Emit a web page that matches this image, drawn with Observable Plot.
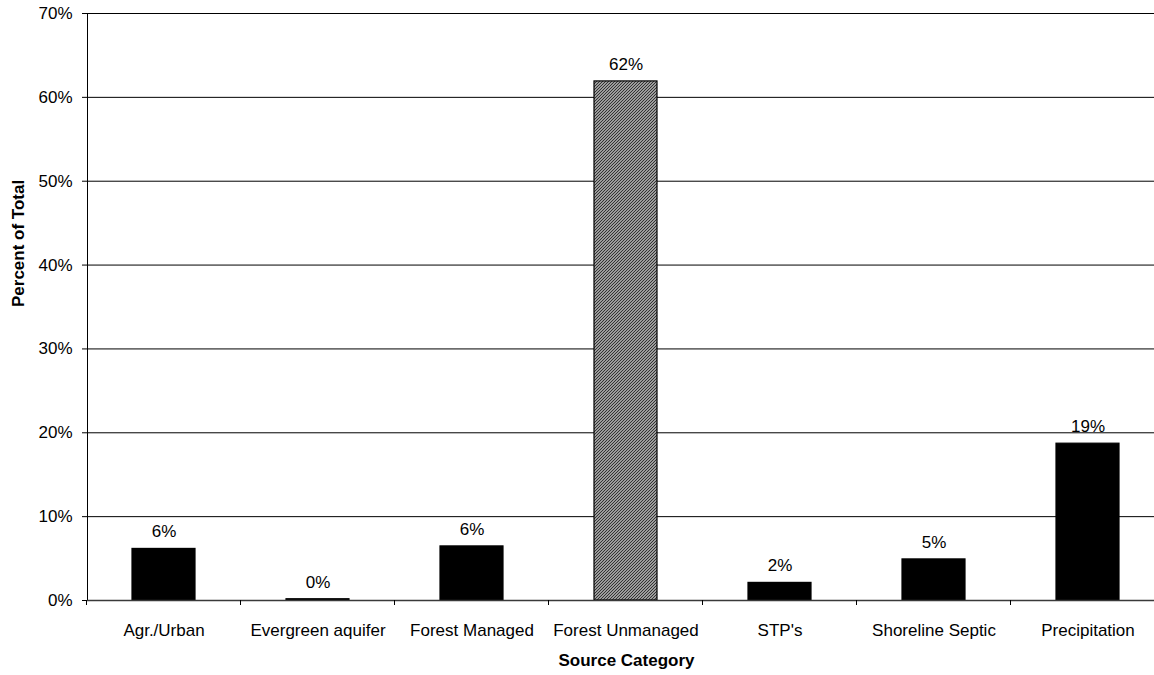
<!DOCTYPE html>
<html>
<head>
<meta charset="utf-8">
<script src="https://cdn.jsdelivr.net/npm/d3@7"></script>
<script src="https://cdn.jsdelivr.net/npm/@observablehq/plot@0.6"></script>
<style>
  html, body { margin: 0; padding: 0; background: #fff; overflow: hidden; }
  #chart { width: 1154px; height: 675px; overflow: hidden; }
  #chart svg { max-width: none !important; }
  #chart svg text { font-size: 17px; font-family: 'Liberation Sans', Arial, sans-serif; }
</style>
</head>
<body>
<div id="chart"></div>
<script>
const categories = ["Agr./Urban", "Evergreen aquifer", "Forest Managed", "Forest Unmanaged", "STP's", "Shoreline Septic", "Precipitation"];
const values = [6.15, 0.15, 6.45, 61.9, 2.1, 4.9, 18.7];
const hatchedCategory = "Forest Unmanaged";
const yTicks = [0, 10, 20, 30, 40, 50, 60, 70];
const yTitle = "Percent of Total";
const xTitle = "Source Category";

const data = categories.map((c, i) => ({category: c, value: values[i]}));

function boundaryTicks(index, scales, channels, dimensions) {
  const x = scales.x, y = scales.y;
  const step = x.step(), bw = x.bandwidth();
  const gap = (step - bw) / 2;
  const edges = categories.map(c => x(c) - gap);
  edges.push(x(categories[categories.length - 1]) + bw + gap);
  const y0 = y(0);
  const g = d3.create("svg:g").attr("stroke", "#000").attr("stroke-width", 1);
  g.selectAll("line").data(edges).join("line")
    .attr("x1", d => d).attr("x2", d => d)
    .attr("y1", y0).attr("y2", y0 + 5);
  return g.node();
}

const plot = Plot.plot({
  width: 1170,
  height: 675,
  marginLeft: 87,
  marginRight: 5,
  marginTop: 13,
  marginBottom: 75,
  style: {fontFamily: "'Liberation Sans', Arial, sans-serif", fontSize: "17px", color: "#000", background: "#fff", maxWidth: "none"},
  color: {type: "identity"},
  x: {domain: categories, paddingInner: 0.59, paddingOuter: 0.295, tickSize: 0, tickPadding: 23, label: null},
  y: {domain: [0, 70], ticks: yTicks, tickFormat: d => d + "%", tickSize: 5, tickPadding: 10, line: true, label: null},
  marks: [
    Plot.ruleY(yTicks.filter(t => t > 0), {stroke: "#000", strokeWidth: 1}),
    Plot.barY(data, {
      x: "category", y: "value",
      fill: d => d.category === hatchedCategory ? "url(#hatch)" : "#000",
      stroke: "#000", strokeWidth: 1.2
    }),
    Plot.ruleY([0], {stroke: "#3a3a3a", strokeWidth: 1.6}),
    boundaryTicks,
    Plot.text(data, {x: "category", y: "value", text: d => Math.round(d.value) + "%", dy: -17, lineAnchor: "middle", fill: "#000", fontSize: 17}),
    Plot.text([yTitle], {frameAnchor: "left", text: d => d, rotate: -90, dx: -69, fontWeight: "bold", fontSize: 17, fill: "#000"}),
    Plot.text([xTitle], {frameAnchor: "bottom", text: d => d, dy: 65, fontWeight: "bold", fontSize: 17, fill: "#000"})
  ]
});

const svg = d3.select(plot);
const defs = svg.insert("defs", ":first-child");
const pat = defs.append("pattern").attr("id", "hatch").attr("patternUnits", "userSpaceOnUse")
  .attr("width", 3).attr("height", 3);
pat.append("rect").attr("width", 3).attr("height", 3).attr("fill", "#fff");
pat.append("path").attr("d", "M-1,1 l2,-2 M0,3 l3,-3 M2,4 l2,-2")
  .attr("stroke", "#333").attr("stroke-width", 1.4);

document.getElementById("chart").appendChild(plot);
</script>
</body>
</html>
